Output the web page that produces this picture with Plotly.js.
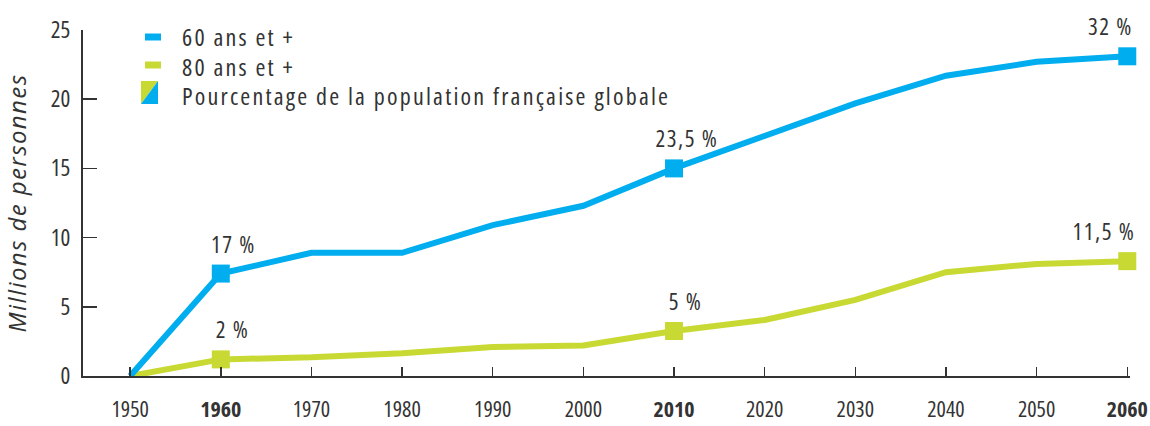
<!DOCTYPE html>
<html><head><meta charset="utf-8">
<script src="https://cdn.plot.ly/plotly-3.0.1.min.js"></script>
<style>
body{margin:0;background:#fff}#c{width:1150px;height:426px}
svg text{font-stretch:75%}
#c .main-svg text.ytitle{font-stretch:100%;letter-spacing:1.4px}
#c g.annotation text{letter-spacing:1.5px}
#c g.annotation[data-index="0"] text,#c g.annotation[data-index="1"] text,#c g.annotation[data-index="2"] text{letter-spacing:2.2px}
</style>
</head><body><div id="c"></div>
<script>
const years = [1950,1960,1970,1980,1990,2000,2010,2020,2030,2040,2050,2060];
const pop60 = [0,7.4,8.9,8.9,10.9,12.3,15.0,17.3,19.7,21.7,22.7,23.1];
const pop80 = [0,1.2,1.35,1.65,2.1,2.2,3.25,4.05,5.5,7.5,8.1,8.3];
const keyYears = [1960,2010,2060];
const key60 = [7.4,15.0,23.1];
const key80 = [1.2,3.25,8.3];
const pct60 = ["17 %","23,5 %","32 %"];
const pct80 = ["2 %","5 %","11,5 %"];
const tickLabels = ["1950","<b>1960</b>","1970","1980","1990","2000","<b>2010</b>","2020","2030","2040","2050","<b>2060</b>"];
const yTicks = [0,5,10,15,20,25];
const legendNames = ["60 ans et +","80 ans et +","Pourcentage de la population française globale"];

const BLUE = "#00aeef", GREEN = "#c9d934", TXT = "#333333";
const FONT = "Open Sans, sans-serif";

const traces = [
  {x: years, y: pop80, mode: "lines", line: {color: GREEN, width: 6}, hoverinfo: "skip", cliponaxis: false},
  {x: years, y: pop60, mode: "lines", line: {color: BLUE, width: 6}, hoverinfo: "skip", cliponaxis: false},
  {x: keyYears, y: key80, mode: "markers", marker: {symbol: "square", size: 18, color: GREEN}, cliponaxis: false},
  {x: keyYears, y: key60, mode: "markers", marker: {symbol: "square", size: 18, color: BLUE}, cliponaxis: false}
];

function px(x){ return (x - 83) / 1047; }
function py(y){ return 1 - (y - 30) / 346; }

const annotations = [];
const legY = [37, 66, 95];
legendNames.forEach((n, i) => {
  annotations.push({xref: "paper", yref: "paper", x: px(180), y: py(legY[i]), xanchor: "left", yanchor: "middle", align: "left", text: n, showarrow: false, font: {family: FONT, size: 24, color: TXT}});
});
const xs60 = [13, 13, -17];
const xs80 = [12, 11, -23];
keyYears.forEach((yr, i) => {
  annotations.push({x: yr, y: key60[i], text: pct60[i], showarrow: false, yshift: 30, xshift: xs60[i], font: {family: FONT, size: 23, color: TXT}});
  annotations.push({x: yr, y: key80[i], text: pct80[i], showarrow: false, yshift: 30, xshift: xs80[i], font: {family: FONT, size: 23, color: TXT}});
});

const shapes = [
  {type: "line", xref: "paper", yref: "paper", x0: px(145), x1: px(161), y0: py(37), y1: py(37), line: {color: BLUE, width: 7}},
  {type: "line", xref: "paper", yref: "paper", x0: px(145), x1: px(161), y0: py(65), y1: py(65), line: {color: GREEN, width: 7}},
  {type: "path", xref: "paper", yref: "paper", path: `M ${px(141)} ${py(81)} L ${px(158)} ${py(81)} L ${px(141)} ${py(104)} Z`, fillcolor: GREEN, line: {width: 0}},
  {type: "path", xref: "paper", yref: "paper", path: `M ${px(158)} ${py(81)} L ${px(158)} ${py(104)} L ${px(141)} ${py(104)} Z`, fillcolor: BLUE, line: {width: 0}}
];

const layout = {
  width: 1150, height: 426,
  margin: {l: 83, r: 20, t: 30, b: 50},
  paper_bgcolor: "#fff", plot_bgcolor: "#fff",
  showlegend: false,
  font: {family: FONT, size: 21, color: TXT},
  xaxis: {
    range: [1944.8, 2060.3], tickvals: years, ticktext: tickLabels,
    ticks: "inside", ticklen: 9, tickwidth: 1.5, tickcolor: TXT,
    showline: true, linecolor: TXT, linewidth: 2, showgrid: false, zeroline: false,
    ticklabelstandoff: 13, ticklabeloverflow: "allow", tickfont: {family: FONT, size: 22, color: TXT}
  },
  yaxis: {
    range: [0, 25], tickvals: yTicks,
    ticks: "inside", ticklen: 14, tickwidth: 1.5, tickcolor: TXT,
    showline: true, linecolor: TXT, linewidth: 2, showgrid: false, zeroline: false,
    ticklabelstandoff: 6, tickfont: {family: FONT, size: 23, color: TXT},
    title: {text: "<i>Millions de personnes</i>", standoff: 22, font: {family: FONT, size: 24, color: TXT}}
  },
  annotations: annotations,
  shapes: shapes
};
Plotly.newPlot("c", traces, layout, {staticPlot: true});
</script></body></html>
